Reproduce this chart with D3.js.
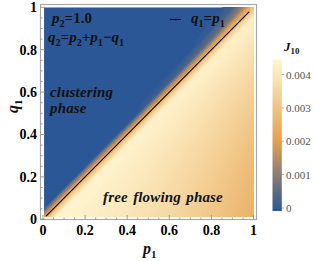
<!DOCTYPE html>
<html>
<head>
<meta charset="utf-8">
<script src="https://cdn.jsdelivr.net/npm/d3@7"></script>
<style>
  body { margin: 0; background: #fff; }
  svg { display: block; }
  text { font-family: "Liberation Serif", "Times New Roman", serif; }
</style>
</head>
<body>
<svg width="314" height="261"></svg>
<script>
// grid of the density plot, p1 along columns, q1 along rows
const p1Values = [0, 0.05, 0.1, 0.15, 0.2, 0.25, 0.3, 0.35, 0.4, 0.45, 0.5,
                  0.55, 0.6, 0.65, 0.7, 0.75, 0.8, 0.85, 0.9, 0.95, 1];
const q1Values = [0, 0.05, 0.1, 0.15, 0.2, 0.25, 0.3, 0.35, 0.4, 0.45, 0.5,
                  0.55, 0.6, 0.65, 0.7, 0.75, 0.8, 0.85, 0.9, 0.95, 1];

// J10, in units of 1e-3, one row per q1 value (bottom to top)
const j10Rows = [
  [2.2, 4.41, 4.37, 4.32, 4.26, 4.20, 4.13, 4.05, 3.97, 3.87, 3.79, 3.68, 3.59, 3.48, 3.36, 3.24, 3.11, 2.97, 2.83, 2.69, 2.53],
  [0, 2.4, 4.40, 4.35, 4.29, 4.23, 4.16, 4.09, 4.01, 3.92, 3.83, 3.73, 3.62, 3.51, 3.39, 3.27, 3.14, 3.01, 2.87, 2.72, 2.57],
  [0, 0, 2.5, 4.40, 4.34, 4.28, 4.21, 4.14, 4.05, 3.97, 3.87, 3.78, 3.67, 3.56, 3.44, 3.32, 3.19, 3.06, 2.91, 2.77, 2.61],
  [0, 0, 0, 2.5, 4.39, 4.33, 4.26, 4.19, 4.10, 4.02, 3.92, 3.83, 3.72, 3.61, 3.49, 3.37, 3.24, 3.11, 2.96, 2.82, 2.66],
  [0, 0, 0, 0, 2.5, 4.39, 4.32, 4.25, 4.16, 4.08, 3.98, 3.89, 3.78, 3.67, 3.55, 3.43, 3.30, 3.17, 3.02, 2.88, 2.72],
  [0, 0, 0, 0, 0, 2.5, 4.38, 4.31, 4.22, 4.14, 4.04, 3.95, 3.84, 3.73, 3.61, 3.49, 3.36, 3.23, 3.08, 2.94, 2.78],
  [0, 0, 0, 0, 0, 0.05, 2.5, 4.38, 4.29, 4.21, 4.11, 4.02, 3.91, 3.80, 3.68, 3.56, 3.43, 3.30, 3.15, 3.01, 2.85],
  [0, 0, 0, 0, 0, 0, 0.05, 2.5, 4.37, 4.28, 4.19, 4.09, 3.98, 3.87, 3.75, 3.63, 3.50, 3.37, 3.23, 3.08, 2.93],
  [0, 0, 0, 0, 0, 0, 0, 0.05, 2.5, 4.37, 4.27, 4.17, 4.07, 3.96, 3.84, 3.72, 3.59, 3.45, 3.31, 3.17, 3.01],
  [0, 0, 0, 0, 0, 0, 0, 0, 0.05, 2.5, 4.35, 4.26, 4.15, 4.04, 3.92, 3.80, 3.67, 3.54, 3.39, 3.25, 3.09],
  [0, 0, 0, 0, 0, 0, 0, 0, 0, 0.05, 2.5, 4.35, 4.25, 4.14, 4.02, 3.90, 3.77, 3.63, 3.49, 3.35, 3.19],
  [0, 0, 0, 0, 0, 0, 0, 0, 0, 0, 0.15, 2.5, 4.34, 4.23, 4.11, 3.99, 3.86, 3.73, 3.59, 3.44, 3.29],
  [0, 0, 0, 0, 0, 0, 0, 0, 0, 0, 0, 0.2, 2.5, 4.34, 4.22, 4.10, 3.97, 3.84, 3.69, 3.55, 3.39],
  [0, 0, 0, 0, 0, 0, 0, 0, 0, 0, 0, 0, 0.25, 2.5, 4.33, 4.21, 4.08, 3.95, 3.80, 3.66, 3.50],
  [0, 0, 0, 0, 0, 0, 0, 0, 0, 0, 0, 0, 0, 0.3, 2.5, 4.33, 4.20, 4.07, 3.92, 3.78, 3.62],
  [0, 0, 0, 0, 0, 0, 0, 0, 0, 0, 0, 0, 0, 0, 0.4, 2.6, 4.32, 4.19, 4.04, 3.90, 3.74],
  [0, 0, 0, 0, 0, 0, 0, 0, 0, 0, 0, 0, 0, 0, 0.05, 0.5, 2.7, 4.32, 4.17, 4.03, 3.87],
  [0, 0, 0, 0, 0, 0, 0, 0, 0, 0, 0, 0, 0, 0, 0, 0.08, 0.6, 2.8, 4.31, 4.16, 4.01],
  [0, 0, 0, 0, 0, 0, 0, 0, 0, 0, 0, 0, 0, 0, 0, 0, 0.15, 0.8, 2.9, 4.31, 4.15],
  [0, 0, 0, 0, 0, 0, 0, 0, 0, 0, 0, 0, 0, 0, 0, 0, 0.03, 0.25, 1.0, 2.9, 4.29],
  [0, 0, 0, 0, 0, 0, 0, 0, 0, 0, 0, 0, 0, 0, 0, 0, 0, 0.05, 0.3, 1.2, 3.0]
];

const axisTicks = [0, 0.2, 0.4, 0.6, 0.8, 1];
const axisTickLabels = ["0", "0.2", "0.4", "0.6", "0.8", "1"];
const barTicks = [0, 0.001, 0.002, 0.003, 0.004];
const barTickLabels = ["0", "0.001", "0.002", "0.003", "0.004"];
const colorDomain = [0, 0.0021, 0.00445];
const colorRange = ["#2b5797", "#e6a24f", "#fff6d2"];
const diagLine = [0.015, 0.98]; // q1 = p1 drawn between these p1 values

const svg = d3.select("svg");

const x = d3.scaleLinear().domain([0, 1]).range([43, 253.5]);
const y = d3.scaleLinear().domain([0, 1]).range([219.3, 7.3]);
const color = d3.scaleLinear().domain(colorDomain).range(colorRange).interpolate(d3.interpolateRgb);

// density image via filled contours
const nx = p1Values.length, ny = q1Values.length;
const step = p1Values[1] - p1Values[0];
const values = j10Rows.flat().map(v => v * 1e-3);
const dv = 0.00005;
const thresholds = d3.range(dv, colorDomain[2], dv);
const contours = d3.contours().size([nx, ny]).thresholds(thresholds)(values);

const proj = d3.geoTransform({
    point: function (gx, gy) {
        this.stream.point(x(p1Values[0] + (gx - 0.5) * step), y(q1Values[0] + (gy - 0.5) * step));
    }
});
const path = d3.geoPath(proj);

svg.append("clipPath").attr("id", "img")
  .append("rect")
    .attr("x", x(0.005)).attr("y", y(1))
    .attr("width", x(1) - x(0.005)).attr("height", y(0.012) - y(1));

const img = svg.append("g").attr("clip-path", "url(#img)");
img.append("rect")
    .attr("x", x(0)).attr("y", y(1))
    .attr("width", x(1) - x(0)).attr("height", y(0) - y(1))
    .attr("fill", color(0));
img.selectAll("path.c")
  .data(contours)
  .join("path")
    .attr("class", "c")
    .attr("d", path)
    .attr("fill", d => color(Math.min(d.value + dv / 2, colorDomain[2])));

// q1 = p1 line
svg.append("line")
    .attr("x1", x(diagLine[0])).attr("y1", y(diagLine[0]))
    .attr("x2", x(diagLine[1])).attr("y2", y(diagLine[1]))
    .attr("stroke", "#000").attr("stroke-width", 1.1);

// frame and ticks
const frameCol = "#a8a8a8";
svg.append("rect")
    .attr("x", 40.5).attr("y", 4.5).attr("width", 216).attr("height", 215)
    .attr("fill", "none").attr("stroke", frameCol).attr("stroke-width", 1.2);

const minor = d3.range(0, 1.0001, 0.05);
const isMajor = d => axisTicks.some(t => Math.abs(t - d) < 1e-6);
svg.append("g").selectAll("line")
  .data(minor)
  .join("line")
    .attr("x1", d => x(d)).attr("x2", d => x(d))
    .attr("y1", 219.5).attr("y2", d => isMajor(d) ? 215 : 217.5)
    .attr("stroke", "#888").attr("stroke-width", 0.8);
svg.append("g").selectAll("line")
  .data(minor)
  .join("line")
    .attr("y1", d => y(d)).attr("y2", d => y(d))
    .attr("x1", 40.5).attr("x2", d => isMajor(d) ? 45 : 42.5)
    .attr("stroke", "#888").attr("stroke-width", 0.8);

svg.append("g").selectAll("text")
  .data(axisTicks)
  .join("text")
    .attr("x", d => x(d)).attr("y", 235)
    .attr("text-anchor", "middle")
    .attr("font-size", 14).attr("font-weight", "bold")
    .text((d, i) => axisTickLabels[i]);
svg.append("g").selectAll("text")
  .data(axisTicks)
  .join("text")
    .attr("x", 37).attr("y", d => y(d) + 4.8)
    .attr("text-anchor", "end")
    .attr("font-size", 14).attr("font-weight", "bold")
    .text((d, i) => axisTickLabels[i]);

// math-ish text with subscripts
function mathText(g, px, py, parts, size) {
    const t = g.append("text").attr("x", px).attr("y", py)
        .attr("font-size", size).attr("font-weight", "bold").attr("fill", "#111");
    let shifted = false;
    parts.forEach(p => {
        const s = t.append("tspan").text(p.t);
        if (p.it) s.attr("font-style", "italic");
        if (p.sub && !shifted) { s.attr("dy", size * 0.25).attr("font-size", size * 0.68); shifted = true; }
        else if (p.sub) { s.attr("font-size", size * 0.68); }
        else if (shifted) { s.attr("dy", -size * 0.25); shifted = false; }
    });
    return t;
}

const labels = svg.append("g");
mathText(labels, 52, 23, [{t: "p", it: 1}, {t: "2", sub: 1}, {t: "=1.0"}], 15);
mathText(labels, 48, 42, [
    {t: "q", it: 1}, {t: "2", sub: 1}, {t: "="}, {t: "p", it: 1}, {t: "2", sub: 1},
    {t: "+"}, {t: "p", it: 1}, {t: "1", sub: 1}, {t: "\u2212"}, {t: "q", it: 1}, {t: "1", sub: 1}], 15);

labels.append("line").attr("x1", 170).attr("x2", 181).attr("y1", 19.5).attr("y2", 19.5)
    .attr("stroke", "#000").attr("stroke-width", 1.1);
mathText(labels, 191, 23, [{t: "q", it: 1}, {t: "1", sub: 1}, {t: "="}, {t: "p", it: 1}, {t: "1", sub: 1}], 15);

[["clustering", 50, 97], ["phase", 50, 113], ["free flowing phase", 103, 202]].forEach(([s, px, py]) => {
    labels.append("text").attr("x", px).attr("y", py)
        .attr("font-size", 15).attr("font-weight", "bold").attr("font-style", "italic")
        .attr("letter-spacing", 0.15).attr("word-spacing", 1.5)
        .attr("fill", "#111").text(s);
});

// axis titles
mathText(svg.append("g"), 143, 254, [{t: "p", it: 1}, {t: "1", sub: 1}], 16);
const qg = svg.append("g").attr("transform", "translate(18,113) rotate(-90)");
mathText(qg, 0, 0, [{t: "q", it: 1}, {t: "1", sub: 1}], 16);

// colour bar
const cy = d3.scaleLinear().domain([0, 0.004]).range([208, 74.5]);
const grad = svg.append("defs").append("linearGradient")
    .attr("id", "cb").attr("x1", 0).attr("y1", 1).attr("x2", 0).attr("y2", 0);
d3.range(0, 1.0001, 0.05).forEach(f => {
    grad.append("stop").attr("offset", f)
        .attr("stop-color", color(colorDomain[0] + f * (colorDomain[2] - colorDomain[0])));
});
svg.append("rect")
    .attr("x", 272.5).attr("y", cy(colorDomain[2]))
    .attr("width", 9.3).attr("height", 211 - cy(colorDomain[2]))
    .attr("fill", "url(#cb)");
svg.append("g").selectAll("line")
  .data(barTicks)
  .join("line")
    .attr("x1", 281.8).attr("x2", 284)
    .attr("y1", d => cy(d)).attr("y2", d => cy(d))
    .attr("stroke", "#999").attr("stroke-width", 0.8);
svg.append("g").selectAll("text")
  .data(barTicks)
  .join("text")
    .attr("x", 286).attr("y", d => cy(d) + 4)
    .attr("font-size", 11).attr("fill", "#555")
    .text((d, i) => barTickLabels[i]);
mathText(svg.append("g"), 284, 51, [{t: "J", it: 1}, {t: "10", sub: 1}], 13);
</script>
</body>
</html>
